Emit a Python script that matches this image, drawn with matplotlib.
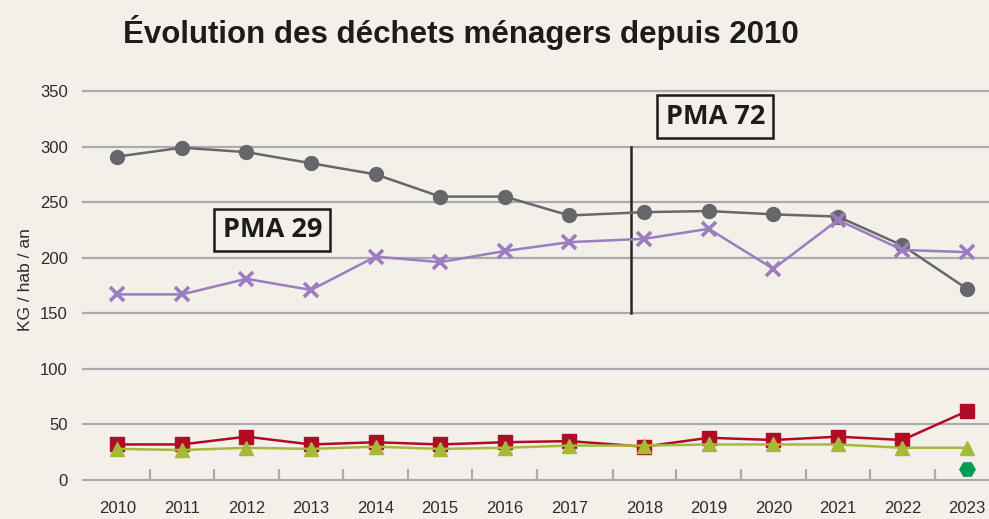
import matplotlib
matplotlib.use('Agg')

import matplotlib.pyplot as plt
import numpy as np

# data
years = ['2010', '2011', '2012', '2013', '2014', '2015', '2016',
         '2017', '2018', '2019', '2020', '2021', '2022', '2023']
omr = [291, 299, 295, 285, 275, 255, 255, 238, 241, 242, 239, 237, 211, 172]
recyclables = [167, 167, 181, 171, 201, 196, 206, 214, 217, 226, 190, 234, 207, 205]
red_series = [32, 32, 39, 32, 34, 32, 34, 35, 30, 38, 36, 39, 36, 62]
green_series = [28, 27, 29, 28, 30, 28, 29, 31, 31, 32, 32, 32, 29, 29]
hex_year = '2023'
hex_value = 10

BG = '#F3EFE9'
GRID = '#ABAAAE'
TXT = '#2E2B2C'
SANS = ['Liberation Sans', 'DejaVu Sans']

# the chart leaves a wider gap between 2017 and 2018
gap = 0.16
x = np.array([i + (gap if int(y) >= 2018 else 0) for i, y in enumerate(years)])

fig = plt.figure(figsize=(9.89, 5.19), dpi=100, facecolor=BG)
ax = fig.add_axes([0.084, 0.0751, 0.916, 0.7496], facecolor=BG)

ax.set_xlim(-0.53, 13.5)
ax.set_ylim(0, 350)

for v in range(0, 351, 50):
    ax.axhline(v, color=GRID, lw=1.6, zorder=1, clip_on=False)

ax.plot(x, omr, color='#67676B', lw=1.8, marker='o', ms=10, zorder=3, clip_on=False)
ax.plot(x, recyclables, color='#9B7DC0', lw=1.8, marker='x', ms=10, mew=2.6, zorder=3, clip_on=False)
ax.plot(x, red_series, color='#B00C25', lw=1.8, marker='s', ms=10.5, zorder=3, clip_on=False)
ax.plot(x, green_series, color='#A6BA38', lw=1.8, marker='^', ms=10, zorder=4, clip_on=False)
ax.plot(x[years.index(hex_year)], hex_value, color='#009B55', marker='H', ms=11, ls='none', zorder=4)

# separator between the two periods
x_sep = x[7] + 0.96
ax.plot([x_sep, x_sep], [150, 300], color='#2A2728', lw=1.8, zorder=2)

box = dict(boxstyle='square,pad=0.3', facecolor=BG, edgecolor='#1E1B1C', lw=1.8)
ax.text(2.4, 225, 'PMA 29', ha='center', va='center', fontsize=19.5, fontweight='bold',
        family='Open Sans', color='#1E1B1C', bbox=box, zorder=5)
ax.text(9.26, 327, 'PMA 72', ha='center', va='center', fontsize=19.5, fontweight='bold',
        family='Open Sans', color='#1E1B1C', bbox=box, zorder=5)

# ticks
ax.set_xticks(x)
ax.set_xticklabels(years, family=SANS, fontsize=12, color=TXT)
ax.tick_params(axis='x', length=0, pad=15)
mids = list((x[:-1] + x[1:]) / 2)
mids[7] = x[7] + 0.68
ax.set_xticks(mids, minor=True)
ax.tick_params(axis='x', which='minor', direction='in', length=8, width=1.6, color=GRID)

ax.set_yticks(range(0, 351, 50))
ax.set_yticklabels([str(v) for v in range(0, 351, 50)], family=SANS, fontsize=12, color=TXT)
ax.tick_params(axis='y', length=0, pad=11)

for s in ax.spines.values():
    s.set_visible(False)

fig.text(0.026, 0.462, 'KG / hab / an', rotation=90, ha='center', va='center',
         family=SANS, fontsize=12.5, color=TXT)

title = fig.text(0.124, 0.938, 'Évolution des déchets ménagers depuis 2010', ha='left', va='center',
                 family=SANS, fontsize=26, fontweight='bold', color='#1E1B1C')
# shrink the title to the width it has in the original (about 677 px)
fig.canvas.draw()
w = title.get_window_extent().width
title.set_fontsize(26 * 677 / w)

fig.savefig('out.png', dpi=100, facecolor=BG)
